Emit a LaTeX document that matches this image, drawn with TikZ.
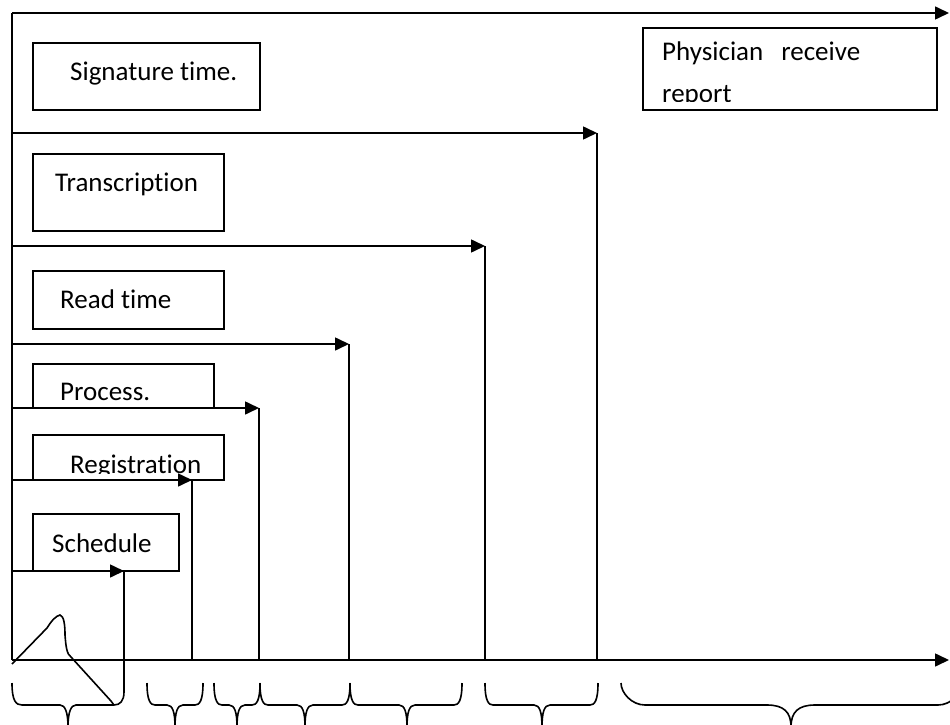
\documentclass[tikz,border=0pt]{standalone}
\usepackage{fontspec}
\setmainfont{Carlito}[Ligatures=NoCommon]
\usetikzlibrary{arrows.meta}
\tikzset{
  ln/.style={line width=1.6pt},
  arr/.style={ln,-{Triangle[length=14pt,width=13pt]}},
  boxline/.style={line width=1.4pt},
  lbl/.style={inner sep=0pt, anchor=base west, font=\fontsize{27}{32}\selectfont}
}
\newcommand{\mybrace}[5]{%
  \draw[ln] (#1,683) .. controls (#1,{705-0.5*#4}) and ({#1+0.45*#4},705) .. ({#1+#4},705)
    -- ({#2-#5},705) .. controls ({#2-0.3*#5},705) and (#2,712) .. (#2,727)
    .. controls (#2,712) and ({#2+0.3*#5},705) .. ({#2+#5},705)
    -- ({#3-#4},705) .. controls ({#3-0.45*#4},705) and (#3,{705-0.5*#4}) .. (#3,683);}
\begin{document}
\begin{tikzpicture}[x=1pt,y=-1pt]
\useasboundingbox (0,0) rectangle (950,725);
% axes
\coordinate (O) at (12,660);
\coordinate (T) at (12,13);
\coordinate (TE) at (949,13);
\coordinate (XE) at (949,660);
\draw[ln] (O) -- (T);
\draw[arr] (T) -- (TE);
\draw[arr] (O) -- (XE);
% steps
\foreach \n/\yy/\xx in {1/133/597, 2/246/485, 3/344/349, 4/408/259, 5/480/192, 6/571/124}{
  \coordinate (s\n) at (12,\yy);
  \coordinate (e\n) at (\xx,\yy);
  \coordinate (b\n) at (\xx,660);
  \draw[arr] (s\n) -- (e\n);
  \draw[ln] (e\n) -- (b\n);
}
% boxes
\draw[boxline] (33,43) rectangle (260,110);
\node[lbl] (sig) at (70,81) {Signature time.};
\draw[boxline] (33,154) rectangle (224,231);
\node[lbl] (tra) at (55,191) {Transcription};
\draw[boxline] (33,271) rectangle (224,329);
\node[lbl] (rea) at (60,308) {Read time};
\draw[boxline] (33,364) rectangle (214,408);
\node[lbl] (pro) at (60,400) {Process.};
\draw[boxline] (33,435) rectangle (224,480);
\begin{scope}
  \clip (33,435) rectangle (224,473);
  \node[lbl] (reg) at (70,473) {Registration};
\end{scope}
\draw[boxline] (33,514) rectangle (179,571);
\node[lbl] (sch) at (52,552) {Schedule};
\draw[boxline] (643,28) rectangle (937,110);
\node[lbl] (phy) at (662,60) {Physician\hspace{18pt}receive};
\begin{scope}
  \clip (643,28) rectangle (937,101);
  \node[lbl] (rep) at (662,102) {report};
\end{scope}
% braces
\draw[ln] (12,683) .. controls (12,701) and (16,705) .. (22,705) -- (60,705)
  .. controls (65,705) and (68,712) .. (68,727)
  .. controls (68,712) and (71,705) .. (76,705) -- (114,705)
  .. controls (120,705) and (124,701) .. (124,692) -- (b6);
\mybrace{147}{175}{203}{8}{8}
\mybrace{214}{237}{260}{8}{8}
\mybrace{260}{305}{350}{8}{8}
\mybrace{350}{407}{462}{8}{8}
\mybrace{485}{542}{598}{8}{8}
\mybrace{621}{791}{962}{24}{24}
% freehand stroke
\draw[ln] (12,664) -- (47,628) .. controls (52,620) and (56,616) .. (60,615)
  .. controls (64,616) and (65,625) .. (65,635)
  .. controls (66,648) and (67,654) .. (71,657) -- (111,701) -- (114,705);
\end{tikzpicture}
\end{document}
